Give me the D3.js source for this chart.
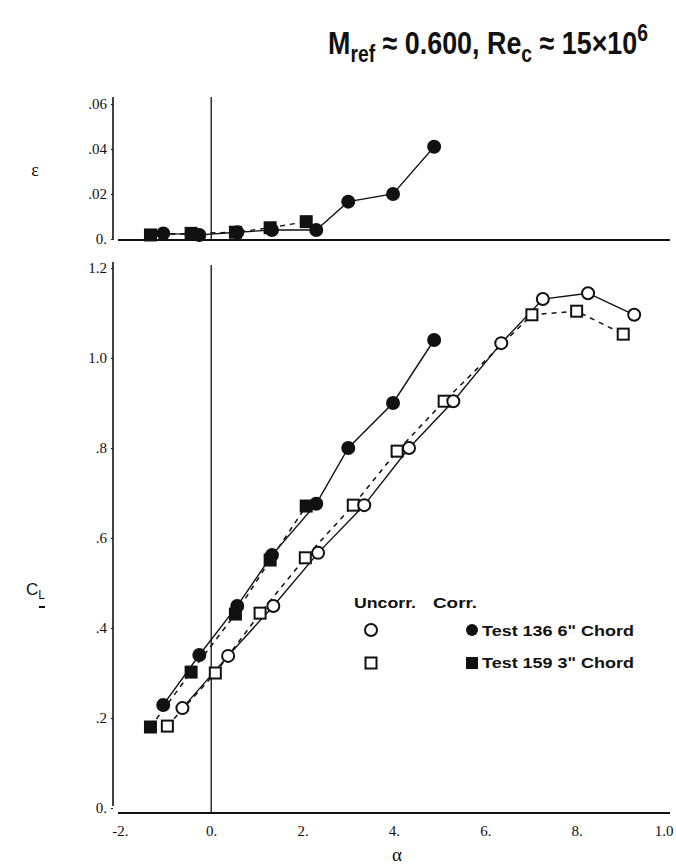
<!DOCTYPE html>
<html>
<head>
<meta charset="utf-8">
<script src="https://cdn.jsdelivr.net/npm/d3@7"></script>
<style>
  html, body { margin: 0; padding: 0; background: #fff; }
  svg { display: block; }
  .tick text { font-family: "Liberation Serif", "DejaVu Serif", serif; font-size: 15px; fill: #111; }
</style>
</head>
<body>
<svg id="chart" width="676" height="867"></svg>
<script>
// Angle-of-attack axis
const alphaTicks = [-2, 0, 2, 4, 6, 8, 10];
const alphaTickLabels = ["-2.", "0.", "2.", "4.", "6.", "8.", "1.0"];

// Lift coefficient axis
const clTicks = [0, 0.2, 0.4, 0.6, 0.8, 1.0, 1.2];
const clTickLabels = ["0.", ".2", ".4", ".6", ".8", "1.0", "1.2"];

// Blockage-correction axis
const epsTicks = [0, 0.02, 0.04, 0.06];
const epsTickLabels = ["0.", ".02", ".04", ".06"];

// Test 136, 6" chord — uncorrected (open circles)
const t136UncAlpha = [-0.63, 0.37, 1.36, 2.34, 3.35, 4.33, 5.30, 6.35, 7.26, 8.25, 9.26];
const t136UncCL    = [0.222, 0.338, 0.449, 0.567, 0.673, 0.800, 0.904, 1.033, 1.131, 1.144, 1.096];

// Test 136, 6" chord — corrected (filled circles)
const t136CorAlpha = [-1.05, -0.26, 0.57, 1.33, 2.30, 3.00, 3.98, 4.88];
const t136CorCL    = [0.229, 0.340, 0.449, 0.562, 0.676, 0.800, 0.900, 1.040];
const t136Eps      = [0.0025, 0.0018, 0.0030, 0.0040, 0.0040, 0.0166, 0.0200, 0.0410];

// Test 159, 3" chord — uncorrected (open squares)
const t159UncAlpha = [-0.96, 0.09, 1.07, 2.06, 3.11, 4.07, 5.10, 7.02, 8.00, 9.02];
const t159UncCL    = [0.182, 0.300, 0.433, 0.556, 0.673, 0.793, 0.904, 1.096, 1.104, 1.053];

// Test 159, 3" chord — corrected (filled squares)
const t159CorAlpha = [-1.33, -0.44, 0.53, 1.29, 2.08];
const t159CorCL    = [0.180, 0.302, 0.431, 0.551, 0.671];
const t159Eps      = [0.0018, 0.0025, 0.0030, 0.0050, 0.0077];

const svg = d3.select("#chart");
const ink = "#111";

const x = d3.scaleLinear().domain([-2.15, 10]).range([113, 668]);
const yCL = d3.scaleLinear().domain([0, 1.2]).range([808, 268]);
const yEps = d3.scaleLinear().domain([0, 0.06]).range([239, 104]);

const pts = (xs, ys) => xs.map((a, i) => [a, ys[i]]);

// ---------- Title (horizontally condensed bold sans) ----------
const title = svg.append("g").attr("transform", "translate(488,54) scale(0.84,1)")
  .append("text")
  .attr("text-anchor", "middle")
  .style("font-family", "'Liberation Sans', Arial, sans-serif")
  .style("font-weight", "bold")
  .style("font-size", "32px")
  .attr("fill", ink);
title.append("tspan").text("M");
title.append("tspan").attr("dy", 8).style("font-size", "23px").text("ref");
title.append("tspan").attr("dy", -8).text(" \u2248 0.600, Re");
title.append("tspan").attr("dy", 8).style("font-size", "23px").text("c");
title.append("tspan").attr("dy", -8).text(" \u2248 15\u00d710");
title.append("tspan").attr("dy", -13).style("font-size", "23px").text("6");

// ---------- Upper panel: epsilon ----------
const epsPanel = svg.append("g");
epsPanel.append("line").attr("x1", 113).attr("x2", 113).attr("y1", 97).attr("y2", 240)
  .attr("stroke", ink).attr("stroke-width", 1.6);
epsPanel.append("line").attr("x1", 118).attr("x2", 670).attr("y1", yEps(0) + 1).attr("y2", yEps(0) + 1)
  .attr("stroke", ink).attr("stroke-width", 2);
epsPanel.append("line").attr("x1", x(0)).attr("x2", x(0)).attr("y1", 97).attr("y2", yEps(0))
  .attr("stroke", ink).attr("stroke-width", 1.3);

epsPanel.append("g").attr("transform", "translate(113,0)")
  .call(d3.axisLeft(yEps).tickValues(epsTicks)
    .tickFormat((d, i) => epsTickLabels[i]).tickSize(2).tickPadding(4))
  .call(g => g.select(".domain").remove())
  .call(g => g.selectAll(".tick line").attr("stroke", ink));

svg.append("text").attr("x", 35).attr("y", 176).attr("text-anchor", "middle")
  .style("font-family", "'Liberation Serif', serif").style("font-size", "18px")
  .attr("fill", ink).text("\u03b5");

const lineEps = d3.line().x(d => x(d[0])).y(d => yEps(d[1]));
epsPanel.append("path").datum(pts(t159CorAlpha, t159Eps)).attr("d", lineEps)
  .attr("fill", "none").attr("stroke", ink).attr("stroke-width", 1.4).attr("stroke-dasharray", "5,5");
epsPanel.append("path").datum(pts(t136CorAlpha, t136Eps)).attr("d", lineEps)
  .attr("fill", "none").attr("stroke", ink).attr("stroke-width", 1.3);
epsPanel.selectAll(".sq").data(pts(t159CorAlpha, t159Eps)).join("rect")
  .attr("x", d => x(d[0]) - 6.5).attr("y", d => yEps(d[1]) - 6.5)
  .attr("width", 13).attr("height", 13).attr("fill", ink);
epsPanel.selectAll(".ci").data(pts(t136CorAlpha, t136Eps)).join("circle")
  .attr("cx", d => x(d[0])).attr("cy", d => yEps(d[1])).attr("r", 7).attr("fill", ink);

// ---------- Lower panel: lift coefficient ----------
const clPanel = svg.append("g");
clPanel.append("line").attr("x1", 113).attr("x2", 113).attr("y1", 262).attr("y2", 806)
  .attr("stroke", ink).attr("stroke-width", 1.6);
clPanel.append("line").attr("x1", 118).attr("x2", 670).attr("y1", 813).attr("y2", 813)
  .attr("stroke", ink).attr("stroke-width", 2);
clPanel.append("line").attr("x1", x(0)).attr("x2", x(0)).attr("y1", 265).attr("y2", 813)
  .attr("stroke", ink).attr("stroke-width", 1.3);

clPanel.append("g").attr("transform", "translate(113,0)")
  .call(d3.axisLeft(yCL).tickValues(clTicks)
    .tickFormat((d, i) => clTickLabels[i]).tickSize(2).tickPadding(4))
  .call(g => g.select(".domain").remove())
  .call(g => g.selectAll(".tick line").attr("stroke", ink));

clPanel.append("g").attr("transform", "translate(0,813)")
  .call(d3.axisBottom(x).tickValues(alphaTicks)
    .tickFormat((d, i) => alphaTickLabels[i]).tickSize(0).tickPadding(12))
  .call(g => g.select(".domain").remove())
  .call(g => g.selectAll(".tick").filter(d => d === 10).select("text")
    .attr("text-anchor", "end").attr("dx", 5));

const cl = svg.append("text").attr("x", 26).attr("y", 595)
  .style("font-family", "'Liberation Sans', Arial, sans-serif").style("font-size", "17px")
  .attr("fill", ink);
cl.append("tspan").text("C");
cl.append("tspan").attr("dy", 4).style("font-size", "12px").text("L");
// small stray tick mark below the C_L label
svg.append("line").attr("x1", 39).attr("x2", 45).attr("y1", 607).attr("y2", 607)
  .attr("stroke", ink).attr("stroke-width", 2);

svg.append("text").attr("x", 397).attr("y", 861).attr("text-anchor", "middle")
  .style("font-family", "'Liberation Serif', serif").style("font-size", "19px")
  .attr("fill", ink).text("\u03b1");

const lineCL = d3.line().x(d => x(d[0])).y(d => yCL(d[1]));
function series(alpha, cls, dashed) {
  clPanel.append("path").datum(pts(alpha, cls)).attr("d", lineCL)
    .attr("fill", "none").attr("stroke", ink)
    .attr("stroke-width", dashed ? 1.5 : 1.4)
    .attr("stroke-dasharray", dashed ? "5,5" : null);
}
series(t159UncAlpha, t159UncCL, true);
series(t159CorAlpha, t159CorCL, true);
series(t136UncAlpha, t136UncCL, false);
series(t136CorAlpha, t136CorCL, false);

clPanel.selectAll(".osq").data(pts(t159UncAlpha, t159UncCL)).join("rect")
  .attr("x", d => x(d[0]) - 5.5).attr("y", d => yCL(d[1]) - 5.5)
  .attr("width", 11).attr("height", 11).attr("fill", "#fff")
  .attr("stroke", ink).attr("stroke-width", 2);
clPanel.selectAll(".oci").data(pts(t136UncAlpha, t136UncCL)).join("circle")
  .attr("cx", d => x(d[0])).attr("cy", d => yCL(d[1])).attr("r", 6)
  .attr("fill", "#fff").attr("stroke", ink).attr("stroke-width", 2);
clPanel.selectAll(".fsq").data(pts(t159CorAlpha, t159CorCL)).join("rect")
  .attr("x", d => x(d[0]) - 6.5).attr("y", d => yCL(d[1]) - 6.5)
  .attr("width", 13).attr("height", 13).attr("fill", ink);
clPanel.selectAll(".fci").data(pts(t136CorAlpha, t136CorCL)).join("circle")
  .attr("cx", d => x(d[0])).attr("cy", d => yCL(d[1])).attr("r", 7).attr("fill", ink);

// ---------- Legend (wide bold sans) ----------
const lg = svg.append("g")
  .style("font-family", "'Liberation Sans', Arial, sans-serif")
  .style("font-weight", "bold").style("font-size", "15px").attr("fill", ink);
lg.append("text").attr("x", 354).attr("y", 608)
  .attr("textLength", 62).attr("lengthAdjust", "spacingAndGlyphs").text("Uncorr.");
lg.append("text").attr("x", 433).attr("y", 608)
  .attr("textLength", 44).attr("lengthAdjust", "spacingAndGlyphs").text("Corr.");
lg.append("circle").attr("cx", 371).attr("cy", 630).attr("r", 6)
  .attr("fill", "#fff").attr("stroke", ink).attr("stroke-width", 2);
lg.append("circle").attr("cx", 472).attr("cy", 630).attr("r", 6).attr("fill", ink);
lg.append("text").attr("x", 482).attr("y", 636)
  .attr("textLength", 152).attr("lengthAdjust", "spacingAndGlyphs")
  .text("Test 136 6\u02ba Chord");
lg.append("rect").attr("x", 365.5).attr("y", 657.5).attr("width", 11).attr("height", 11)
  .attr("fill", "#fff").attr("stroke", ink).attr("stroke-width", 2);
lg.append("rect").attr("x", 466).attr("y", 657).attr("width", 12).attr("height", 12).attr("fill", ink);
lg.append("text").attr("x", 482).attr("y", 668)
  .attr("textLength", 152).attr("lengthAdjust", "spacingAndGlyphs")
  .text("Test 159 3\u02ba Chord");
</script>
</body>
</html>
